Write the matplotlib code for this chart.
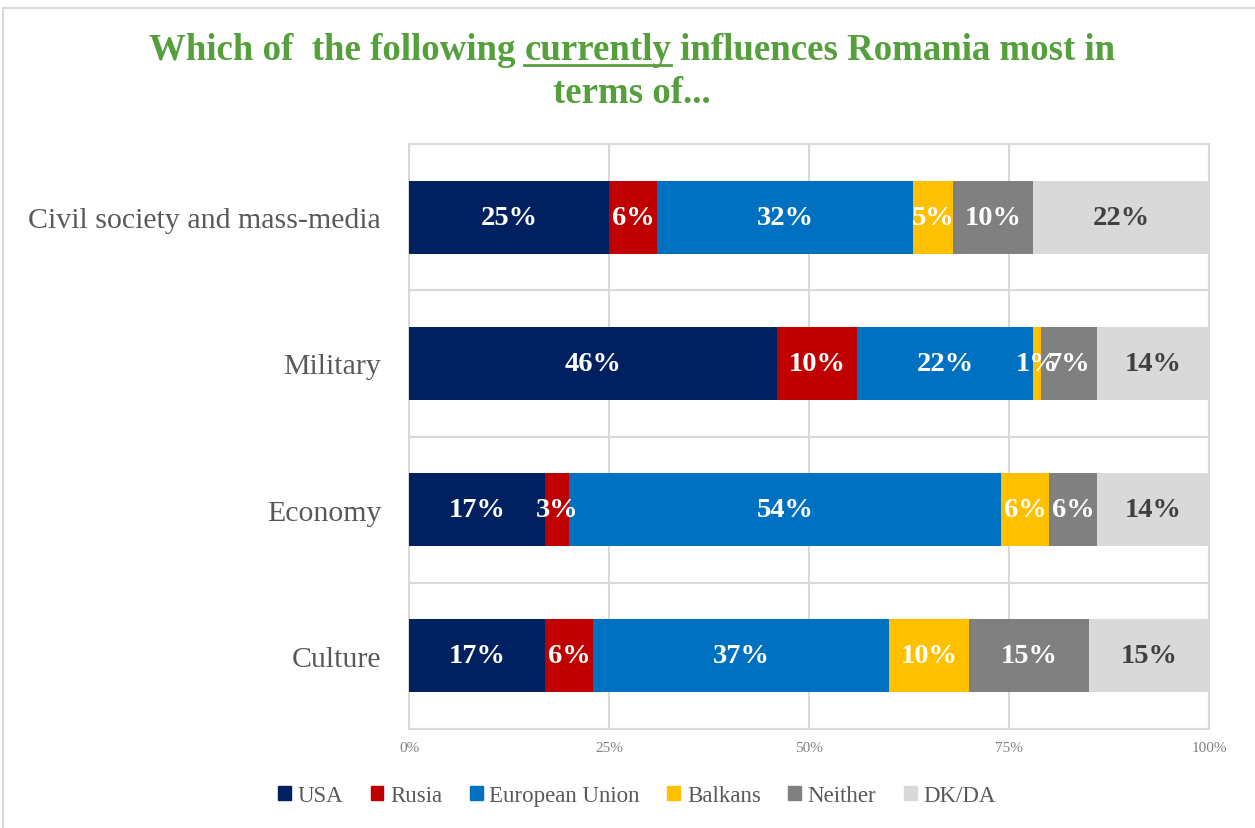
import numpy as np
import matplotlib
matplotlib.use('Agg')
import matplotlib.pyplot as plt
from matplotlib.patches import Rectangle
from matplotlib.lines import Line2D

plt.rcParams['font.family'] = ['Liberation Serif', 'DejaVu Serif']

# data (top to bottom as drawn)
categories = ['Civil society and mass-media', 'Military', 'Economy', 'Culture']
series = ['USA', 'Rusia', 'European Union', 'Balkans', 'Neither', 'DK/DA']
usa = [25, 46, 17, 17]
rusia = [6, 10, 3, 6]
eu = [32, 22, 54, 37]
balkans = [5, 1, 6, 10]
neither = [10, 7, 6, 15]
dkda = [22, 14, 14, 15]
tick_labels = ['0%', '25%', '50%', '75%', '100%']

colors = ['#002060', '#C00000', '#0070C0', '#FFC000', '#808080', '#D9D9D9']
label_colors = ['white', 'white', 'white', 'white', 'white', '#404040']

W, H = 1255, 829
fig = plt.figure(figsize=(W / 100, H / 100), dpi=100)
ax = fig.add_axes([409 / W, (H - 730) / H, 800 / W, 585 / H])

# outer chart border (runs off the right/bottom edge like the reference)
fig.patches.append(Rectangle((3 / W, -0.1), 1.2, 1.1 - 9 / H, transform=fig.transFigure,
                             fill=False, edgecolor='#D9D9D9', linewidth=1.5))

y = np.arange(len(categories))
left = np.zeros(len(categories))
for vals, name, c, lc in zip([usa, rusia, eu, balkans, neither, dkda], series, colors, label_colors):
    vals = np.array(vals, dtype=float)
    ax.barh(y, vals / 100, left=left, height=0.5, color=c, label=name, zorder=3)
    for yi, (l, v) in enumerate(zip(left, vals)):
        ax.text(l + v / 200, yi, f'{int(v)}%', ha='center', va='center',
                color=lc, fontsize=20.5, fontweight='bold', zorder=4)
    left = left + vals / 100

ax.set_xlim(0, 1)
ax.set_ylim(3.5, -0.5)
ax.set_xticks([0, 0.25, 0.5, 0.75, 1.0])
ax.set_xticklabels(tick_labels)
ax.set_yticks(y)
ax.set_yticklabels(categories)
ax.set_yticks([-0.5, 0.5, 1.5, 2.5, 3.5], minor=True)
ax.grid(True, axis='x', color='#D9D9D9', linewidth=1.5, zorder=0)
ax.grid(True, axis='y', which='minor', color='#D9D9D9', linewidth=1.5, zorder=0)
ax.tick_params(axis='both', which='both', length=0)
ax.tick_params(axis='x', labelsize=11, labelcolor='#808080', pad=9)
ax.tick_params(axis='y', labelsize=21.5, labelcolor='#595959', pad=20)
for s in ax.spines.values():
    s.set_color('#D9D9D9')
    s.set_linewidth(1.5)

# legend
handles = [Rectangle((0, 0), 1, 1, color=c) for c in colors]
fig.legend(handles, series, loc='center', bbox_to_anchor=(637 / W, 1 - 797 / H),
           ncol=6, frameon=False, fontsize=16.5, handlelength=0.55, handleheight=0.55,
           handletextpad=0.3, columnspacing=1.2, labelcolor='#595959')

# title with underlined word
green = '#55A03C'
tkw = dict(fontsize=26.6, fontweight='bold', color=green, va='baseline')
fig.canvas.draw()
r = fig.canvas.get_renderer()
parts = ['Which of  the following ', 'currently', ' influences Romania most in']
texts = [fig.text(0, 0, p, **tkw) for p in parts]
widths = [t.get_window_extent(r).width for t in texts]
x0 = 632 - sum(widths) / 2
base = H - 60
xs = x0
for t, w in zip(texts, widths):
    t.set_position((xs / W, base / H))
    xs += w
ux0 = x0 + widths[0]
fig.lines.append(Line2D([ux0 / W, (ux0 + widths[1]) / W], [(base - 6) / H] * 2,
                        transform=fig.transFigure, color=green, linewidth=2))
fig.text(632 / W, (H - 103) / H, 'terms of...', ha='center', **tkw)

fig.savefig('out.png', dpi=100)
